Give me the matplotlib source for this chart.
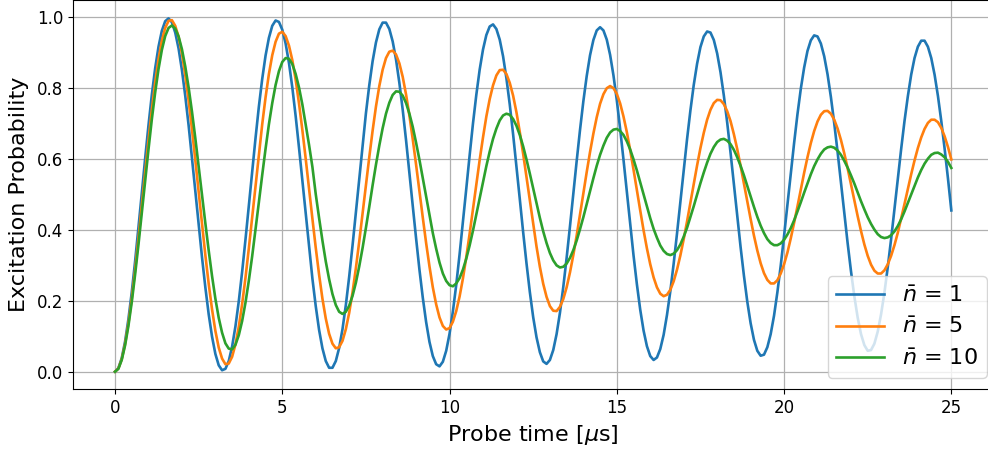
import numpy as np
import matplotlib
matplotlib.use('Agg')
import matplotlib.pyplot as plt

# probe time grid [us], one sample every 0.1 us
probe_time = np.linspace(0.0, 25.0, 251)

# excitation probability, mean phonon number 1
p_nbar1 = [
    0.000, 0.010, 0.038, 0.085, 0.148, 0.224, 0.311, 0.406, 0.503, 0.601,
    0.695, 0.781, 0.856, 0.917, 0.962, 0.989, 0.997, 0.986, 0.957, 0.912,
    0.851, 0.778, 0.695, 0.604, 0.510, 0.415, 0.323, 0.238, 0.162, 0.099,
    0.050, 0.018, 0.004, 0.008, 0.030, 0.071, 0.128, 0.199, 0.282, 0.373,
    0.468, 0.565, 0.659, 0.748, 0.826, 0.892, 0.942, 0.976, 0.991, 0.987,
    0.965, 0.926, 0.871, 0.802, 0.721, 0.632, 0.539, 0.443, 0.350, 0.263,
    0.185, 0.118, 0.066, 0.030, 0.011, 0.011, 0.030, 0.067, 0.120, 0.188,
    0.268, 0.356, 0.450, 0.546, 0.640, 0.729, 0.808, 0.876, 0.929, 0.966,
    0.985, 0.985, 0.967, 0.932, 0.881, 0.815, 0.739, 0.653, 0.562, 0.468,
    0.376, 0.288, 0.209, 0.140, 0.084, 0.044, 0.021, 0.015, 0.028, 0.059,
    0.107, 0.170, 0.245, 0.331, 0.422, 0.516, 0.610, 0.700, 0.781, 0.852,
    0.909, 0.950, 0.974, 0.980, 0.967, 0.937, 0.890, 0.828, 0.754, 0.670,
    0.580, 0.487, 0.394, 0.306, 0.225, 0.154, 0.097, 0.055, 0.029, 0.022,
    0.033, 0.061, 0.106, 0.166, 0.239, 0.321, 0.410, 0.502, 0.594, 0.682,
    0.763, 0.834, 0.893, 0.936, 0.963, 0.972, 0.963, 0.937, 0.894, 0.836,
    0.766, 0.685, 0.598, 0.507, 0.416, 0.328, 0.247, 0.175, 0.116, 0.072,
    0.044, 0.033, 0.040, 0.064, 0.104, 0.160, 0.227, 0.305, 0.390, 0.479,
    0.569, 0.656, 0.737, 0.809, 0.869, 0.916, 0.946, 0.960, 0.957, 0.936,
    0.898, 0.845, 0.779, 0.703, 0.618, 0.530, 0.440, 0.352, 0.271, 0.198,
    0.137, 0.090, 0.059, 0.045, 0.048, 0.069, 0.106, 0.158, 0.224, 0.299,
    0.383, 0.470, 0.559, 0.645, 0.726, 0.798, 0.858, 0.905, 0.935, 0.949,
    0.946, 0.926, 0.890, 0.839, 0.775, 0.701, 0.620, 0.534, 0.448, 0.363,
    0.284, 0.213, 0.153, 0.106, 0.075, 0.059, 0.061, 0.079, 0.113, 0.162,
    0.223, 0.295, 0.374, 0.459, 0.544, 0.628, 0.707, 0.777, 0.838, 0.885,
    0.917, 0.934, 0.934, 0.917, 0.885, 0.838, 0.778, 0.707, 0.629, 0.545,
    0.455,
]

# mean phonon number 5
p_nbar5 = [
    0.000, 0.009, 0.035, 0.078, 0.136, 0.206, 0.287, 0.376, 0.468, 0.562,
    0.653, 0.739, 0.816, 0.882, 0.934, 0.970, 0.990, 0.992, 0.976, 0.945,
    0.898, 0.837, 0.765, 0.684, 0.597, 0.507, 0.416, 0.329, 0.248, 0.176,
    0.115, 0.068, 0.037, 0.021, 0.023, 0.042, 0.077, 0.127, 0.191, 0.265,
    0.348, 0.436, 0.525, 0.614, 0.698, 0.774, 0.840, 0.893, 0.931, 0.954,
    0.959, 0.947, 0.920, 0.879, 0.824, 0.757, 0.682, 0.601, 0.516, 0.432,
    0.350, 0.274, 0.206, 0.150, 0.107, 0.079, 0.066, 0.069, 0.087, 0.120,
    0.166, 0.224, 0.292, 0.367, 0.446, 0.526, 0.605, 0.680, 0.748, 0.806,
    0.852, 0.885, 0.903, 0.906, 0.895, 0.870, 0.832, 0.782, 0.723, 0.656,
    0.584, 0.509, 0.435, 0.363, 0.297, 0.238, 0.190, 0.153, 0.129, 0.119,
    0.123, 0.141, 0.171, 0.212, 0.263, 0.323, 0.389, 0.458, 0.528, 0.597,
    0.661, 0.720, 0.769, 0.808, 0.836, 0.851, 0.852, 0.840, 0.815, 0.779,
    0.732, 0.676, 0.615, 0.549, 0.481, 0.415, 0.353, 0.296, 0.248, 0.211,
    0.185, 0.172, 0.171, 0.183, 0.205, 0.238, 0.280, 0.329, 0.384, 0.443,
    0.503, 0.563, 0.620, 0.672, 0.718, 0.756, 0.783, 0.800, 0.806, 0.800,
    0.784, 0.757, 0.720, 0.676, 0.625, 0.570, 0.512, 0.455, 0.399, 0.348,
    0.303, 0.266, 0.238, 0.220, 0.213, 0.217, 0.231, 0.255, 0.288, 0.328,
    0.374, 0.424, 0.477, 0.531, 0.582, 0.631, 0.674, 0.711, 0.739, 0.758,
    0.767, 0.766, 0.755, 0.735, 0.707, 0.670, 0.628, 0.581, 0.531, 0.480,
    0.431, 0.384, 0.342, 0.306, 0.278, 0.259, 0.249, 0.249, 0.258, 0.277,
    0.303, 0.336, 0.376, 0.420, 0.466, 0.514, 0.561, 0.605, 0.645, 0.679,
    0.706, 0.725, 0.735, 0.736, 0.728, 0.711, 0.686, 0.654, 0.616, 0.574,
    0.529, 0.484, 0.439, 0.397, 0.359, 0.327, 0.302, 0.285, 0.277, 0.277,
    0.286, 0.303, 0.327, 0.357, 0.392, 0.432, 0.473, 0.515, 0.557, 0.596,
    0.631, 0.661, 0.685, 0.702, 0.711, 0.711, 0.704, 0.688, 0.664, 0.634,
    0.599,
]

# mean phonon number 10
p_nbar10 = [
    0.000, 0.008, 0.033, 0.074, 0.129, 0.196, 0.274, 0.358, 0.448, 0.538,
    0.627, 0.712, 0.788, 0.854, 0.908, 0.947, 0.970, 0.977, 0.968, 0.946,
    0.910, 0.861, 0.802, 0.734, 0.659, 0.580, 0.499, 0.419, 0.342, 0.270,
    0.206, 0.152, 0.110, 0.080, 0.065, 0.063, 0.076, 0.103, 0.143, 0.195,
    0.257, 0.326, 0.401, 0.478, 0.555, 0.629, 0.698, 0.758, 0.809, 0.848,
    0.874, 0.885, 0.883, 0.868, 0.840, 0.802, 0.754, 0.697, 0.640, 0.578,
    0.501, 0.434, 0.370, 0.311, 0.261, 0.219, 0.188, 0.169, 0.163, 0.169,
    0.186, 0.214, 0.251, 0.297, 0.349, 0.406, 0.465, 0.526, 0.584, 0.638,
    0.687, 0.728, 0.759, 0.781, 0.791, 0.790, 0.779, 0.758, 0.728, 0.691,
    0.646, 0.598, 0.546, 0.493, 0.441, 0.391, 0.347, 0.308, 0.277, 0.256,
    0.244, 0.241, 0.249, 0.264, 0.288, 0.319, 0.356, 0.398, 0.443, 0.489,
    0.535, 0.580, 0.621, 0.657, 0.686, 0.709, 0.723, 0.728, 0.725, 0.713,
    0.694, 0.668, 0.636, 0.599, 0.559, 0.517, 0.475, 0.434, 0.396, 0.363,
    0.335, 0.314, 0.300, 0.294, 0.296, 0.305, 0.321, 0.343, 0.370, 0.402,
    0.436, 0.473, 0.510, 0.546, 0.581, 0.612, 0.638, 0.660, 0.675, 0.683,
    0.685, 0.679, 0.668, 0.650, 0.627, 0.599, 0.568, 0.534, 0.500, 0.466,
    0.433, 0.403, 0.378, 0.356, 0.341, 0.332, 0.329, 0.333, 0.343, 0.359,
    0.381, 0.406, 0.436, 0.467, 0.500, 0.532, 0.562, 0.590, 0.615, 0.634,
    0.648, 0.655, 0.657, 0.652, 0.642, 0.626, 0.605, 0.581, 0.554, 0.524,
    0.495, 0.465, 0.437, 0.412, 0.391, 0.374, 0.363, 0.357, 0.357, 0.362,
    0.372, 0.387, 0.405, 0.427, 0.452, 0.478, 0.505, 0.531, 0.557, 0.580,
    0.599, 0.615, 0.627, 0.633, 0.635, 0.632, 0.624, 0.612, 0.595, 0.576,
    0.554, 0.531, 0.506, 0.481, 0.458, 0.436, 0.417, 0.401, 0.388, 0.380,
    0.377, 0.379, 0.385, 0.396, 0.411, 0.430, 0.452, 0.476, 0.500, 0.524,
    0.548, 0.569, 0.587, 0.601, 0.612, 0.617, 0.618, 0.613, 0.605, 0.592,
    0.575,
]

series = [
    (p_nbar1, r'$\bar{n}$ = 1'),
    (p_nbar5, r'$\bar{n}$ = 5'),
    (p_nbar10, r'$\bar{n}$ = 10'),
]

fig = plt.figure(figsize=(9.88, 4.5), dpi=100)
# axes runs a little past the right edge, like the cropped original
ax = fig.add_axes([0.0741, 0.1347, 0.9311, 0.8662])

for p, label in series:
    ax.plot(probe_time, p, lw=1.9, label=label)

ax.set_xlim(-1.25, 26.25)
ax.set_ylim(-0.05, 1.05)
ax.grid(True, color='#b0b0b0', lw=0.9)
ax.tick_params(labelsize=12)
ax.set_xlabel(r'Probe time [$\mu$s]', fontsize=16)
ax.set_ylabel('Excitation Probability', fontsize=16, labelpad=6)
ax.legend(loc='lower right', bbox_to_anchor=(0.993, 0.030), borderaxespad=0,
          fontsize=16, handlelength=2.15, labelspacing=0.5)

fig.savefig('out.png', dpi=100)
